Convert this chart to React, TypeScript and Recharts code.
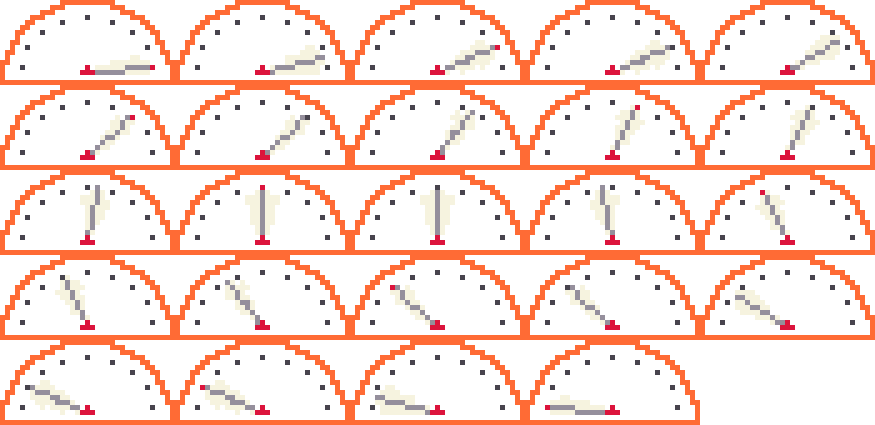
import React from 'react';
import { ScatterChart, Scatter, XAxis, YAxis } from 'recharts';

// ---- data: one gauge per animation frame ----
// needle reading, in scale divisions (0..8)
const needleValue = [0, 0.5, 1, 1, 1.5, 2, 2, 2.5, 3, 3, 3.5, 4, 4, 4.5, 5, 5, 5.5, 6, 6, 6.5, 7, 7, 7.5, 8];
// 1 = the division mark under the needle is lit red in this frame
const litTick = [1, 0, 1, 0, 0, 1, 0, 0, 1, 0, 0, 1, 0, 0, 1, 0, 0, 1, 0, 0, 0, 1, 0, 1];
const tickCount = 9;
const gridCols = 5;
const gridRows = 5;

// ---- layout / style ----
const W = 875;
const H = 425;
const SPRITE_W = 35;
const SPRITE_H = 17;
const PX = W / (gridCols * SPRITE_W);

const COLORS = {
  frame: '#FF6B35',
  tick: '#48444E',
  needle: '#958F9C',
  red: '#DC143C',
  glow: '#F6F3DF',
};

// left half of the pixel outline, per sprite row: [from, to]
const FRAME_SPANS: [number, number][] = [
  [12, 17], [10, 12], [8, 10], [6, 8], [5, 6], [4, 5], [3, 4], [3, 3], [2, 3],
  [2, 2], [1, 2], [1, 1], [0, 1], [0, 0], [0, 0], [0, 0], [0, 17],
];

const CXP = 17;
const CYP = 14;
const RX = 13;
const RY = 11;
const START_DEG = 4.4;
const STEP_DEG = 21.4;

const rad = (v: number) => ((START_DEG + STEP_DEG * v) * Math.PI) / 180;

function glowWidth(u: number) {
  if (u < 0.12) return 0;
  if (u < 0.34) return 1.05;
  if (u < 0.66) return 2.05;
  if (u < 0.86) return 3.05;
  if (u < 0.95) return 1.5;
  if (u <= 1.02) return 0.8;
  return 0;
}

function buildSprite(value: number, lit: number): (string | null)[][] {
  const g: (string | null)[][] = [];
  for (let y = 0; y < SPRITE_H; y++) g.push(new Array(SPRITE_W).fill(null));
  const inside = (x: number, y: number) => {
    if (y < 1 || y > 15) return false;
    const edge = FRAME_SPANS[y][1];
    return x > edge && x < SPRITE_W - 1 - edge;
  };

  const th = rad(value);
  const ex = RX * Math.cos(th);
  const ey = -RY * Math.sin(th);
  const L = Math.hypot(ex, ey);
  const ux = ex / L;
  const uy = ey / L;
  const axisScale = Math.max(Math.abs(ux), Math.abs(uy));

  // glow
  for (let y = 1; y <= 14; y++) {
    for (let x = 1; x < SPRITE_W - 1; x++) {
      if (!inside(x, y)) continue;
      const rx = x - CXP;
      const ry = y - CYP;
      const t = rx * ux + ry * uy;
      const d = Math.abs(rx * uy - ry * ux) / axisScale;
      if (d <= glowWidth(t / L)) g[y][x] = COLORS.glow;
    }
  }

  // needle
  const nx = 0.95 * RX * Math.cos(th);
  const ny = -0.95 * (RY + 0.3) * Math.sin(th);
  const n = Math.ceil(Math.max(Math.abs(nx), Math.abs(ny)));
  for (let i = 1; i <= n; i++) {
    const px = Math.round(CXP + (nx * i) / n);
    const py = Math.round(CYP + (ny * i) / n);
    if (inside(px, py)) g[py][px] = COLORS.needle;
  }

  // division marks
  for (let k = 0; k < tickCount; k++) {
    const a = rad(k);
    const tx = Math.round(CXP + RX * Math.cos(a));
    const ty = Math.round(CYP - RY * Math.sin(a));
    const isLit = lit === 1 && Math.abs(k - value) < 1e-6;
    g[ty][tx] = isLit ? COLORS.red : COLORS.tick;
  }

  // pivot
  g[CYP - 1][CXP] = COLORS.red;
  g[CYP][CXP - 1] = COLORS.red;
  g[CYP][CXP] = COLORS.red;
  g[CYP][CXP + 1] = COLORS.red;

  // outline
  FRAME_SPANS.forEach(([a, b], y) => {
    for (let x = a; x <= b; x++) {
      g[y][x] = COLORS.frame;
      g[y][SPRITE_W - 1 - x] = COLORS.frame;
    }
  });
  return g;
}

const Gauge = (props: any) => {
  const { cx, cy, payload } = props;
  if (cx == null || cy == null) return null;
  const g = buildSprite(payload.value, payload.lit);
  const rects: React.ReactElement[] = [];
  for (let y = 0; y < SPRITE_H; y++) {
    let x = 0;
    while (x < SPRITE_W) {
      const c = g[y][x];
      if (!c) {
        x++;
        continue;
      }
      let e = x;
      while (e + 1 < SPRITE_W && g[y][e + 1] === c) e++;
      rects.push(
        <rect
          key={`${y}-${x}`}
          x={cx + x * PX}
          y={cy + y * PX}
          width={(e - x + 1) * PX}
          height={PX}
          fill={c}
          shapeRendering="crispEdges"
        />
      );
      x = e + 1;
    }
  }
  return <g>{rects}</g>;
};

const data = needleValue.map((value, i) => ({
  col: i % gridCols,
  row: Math.floor(i / gridCols),
  value,
  lit: litTick[i],
}));

export default function App() {
  return (
    <div style={{ position: 'absolute', left: 0, top: 0, width: W, height: H, background: '#ffffff' }}>
      <ScatterChart width={W} height={H} margin={{ top: 0, right: 0, bottom: 0, left: 0 }}>
        <XAxis type="number" dataKey="col" domain={[0, gridCols]} hide />
        <YAxis type="number" dataKey="row" domain={[0, gridRows]} reversed hide />
        <Scatter data={data} shape={<Gauge />} isAnimationActive={false} />
      </ScatterChart>
    </div>
  );
}
